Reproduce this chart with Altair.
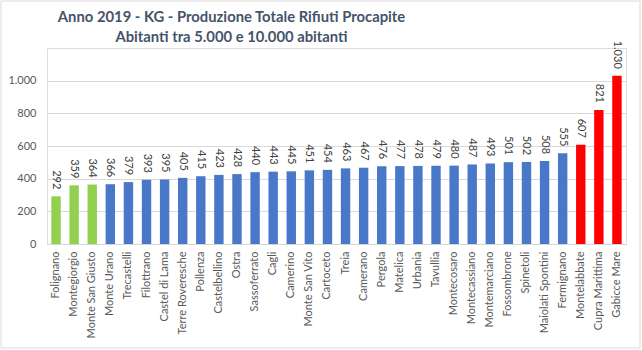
import altair as alt
import pandas as pd

comuni = ["Folignano", "Montegiorgio", "Monte San Giusto", "Monte Urano", "Trecastelli",
          "Filottrano", "Castel di Lama", "Terre Roveresche", "Pollenza", "Castelbellino",
          "Ostra", "Sassoferrato", "Cagli", "Camerino", "Monte San Vito", "Cartoceto",
          "Treia", "Camerano", "Pergola", "Matelica", "Urbania", "Tavullia", "Montecosaro",
          "Montecassiano", "Montemarciano", "Fossombrone", "Spinetoli", "Maiolati Spontini",
          "Fermignano", "Montelabbate", "Cupra Marittima", "Gabicce Mare"]
valori = [292, 359, 364, 366, 379, 393, 395, 405, 415, 423, 428, 440, 443, 445, 451, 454,
          463, 467, 476, 477, 478, 479, 480, 487, 493, 501, 502, 508, 555, 607, 821, 1030]
gruppi = ["basso"] * 3 + ["medio"] * 26 + ["alto"] * 3
tick_y = [0, 200, 400, 600, 800, 1000]

df = pd.DataFrame({"Comune": comuni, "Kg": valori, "Gruppo": gruppi})
df["Etichetta"] = [f"{v:,}".replace(",", ".") for v in valori]

x = alt.X("Comune:N", sort=comuni, title=None,
          scale=alt.Scale(paddingInner=0.48, paddingOuter=0.24),
          axis=alt.Axis(labelAngle=-90, labelFontSize=11, labelColor="#595959",
                        labelFont="Lato", ticks=False, domainColor="#D9D9D9",
                        labelPadding=7, labelLimit=200))
y = alt.Y("Kg:Q", title=None,
          scale=alt.Scale(domain=[0, 1200], nice=False),
          axis=alt.Axis(values=tick_y, domain=False, ticks=False,
                        labelOverlap=False, labelFlush=False,
                        labelFontSize=11, labelColor="#595959", labelFont="Lato",
                        labelPadding=11, gridColor="#D9D9D9",
                        labelExpr="replace(format(datum.value, ','), ',', '.')"))

bars = alt.Chart(df).mark_bar().encode(
    x=x, y=y,
    color=alt.Color("Gruppo:N",
                    scale=alt.Scale(domain=["basso", "medio", "alto"],
                                    range=["#92D050", "#4a78c8", "#FF0000"]),
                    legend=None))

labels = alt.Chart(df).mark_text(angle=90, align="right", baseline="middle", dx=-7,
                                 fontSize=11, font="Lato", color="#404040").encode(
    x=x, y=y, text="Etichetta:N")

# light frame around the whole chart area
frame = alt.Chart(pd.DataFrame({"k": [0]})).mark_rect(
    fill=None, stroke="#D9D9D9", strokeWidth=1).encode(
    x=alt.value(-46), x2=alt.value(593), y=alt.value(-47), y2=alt.value(300))

chart = alt.layer(bars, labels, frame).properties(
    width=579, height=196,
    autosize=alt.AutoSizeParams(type="none"),
    padding={"left": 47, "top": 48, "right": 16, "bottom": 106},
    title=alt.TitleParams(
        text=["Anno 2019 - KG - Produzione Totale Rifiuti Procapite",
              "Abitanti tra 5.000 e 10.000 abitanti"],
        font="Lato", fontSize=14.8, fontWeight="bold", color="#44546A",
        anchor="middle", dx=-105, offset=-44, lineHeight=20),
).configure_view(stroke=None).configure(background="white")

chart.save("out.html", embed_options={"renderer": "svg", "actions": False})
